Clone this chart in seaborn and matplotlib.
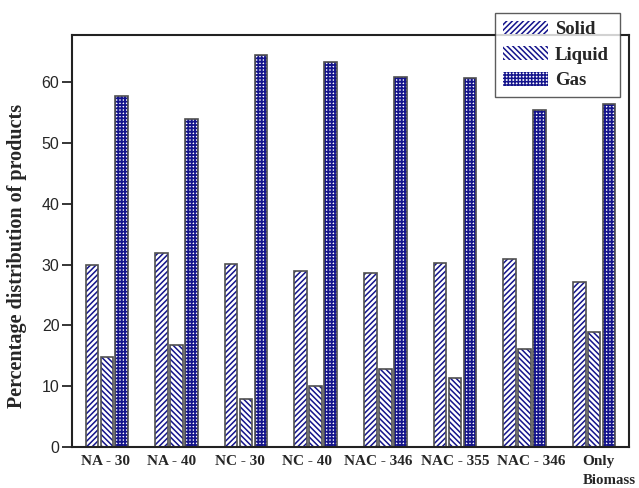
import matplotlib
matplotlib.use("Agg")
import matplotlib.pyplot as plt
from matplotlib.patches import Patch
import seaborn as sns
import pandas as pd

categories = ["NA - 30", "NA - 40", "NC - 30", "NC - 40",
              "NAC - 346", "NAC - 355", "NAC - 346 ", "Only"]
tick_labels = ["NA - 30", "NA - 40", "NC - 30", "NC - 40",
               "NAC - 346", "NAC - 355", "NAC - 346", "Only"]
series = ["Solid", "Liquid", "Gas"]
solid = [29.9, 31.9, 30.1, 28.9, 28.6, 30.2, 30.9, 27.1]
liquid = [14.8, 16.8, 7.9, 10.1, 12.9, 11.3, 16.2, 19.0]
gas = [57.8, 54.0, 64.5, 63.3, 60.9, 60.8, 55.5, 56.5]

# hand-set nudges of the category labels relative to their bar groups
label_shift = [-0.02, -0.07, -0.09, -0.13, -0.10, 0.0, 0.10, 0.06]

rows = []
for name, vals in zip(series, [solid, liquid, gas]):
    for cat, v in zip(categories, vals):
        rows.append({"cat": cat, "product": name, "value": v})
df = pd.DataFrame(rows)

sns.set_style("ticks")
plt.rcParams["hatch.linewidth"] = 1.1
navy = "#14148c"
hatches = {"Solid": "//////", "Liquid": "\\\\\\\\\\\\", "Gas": "+++++"}
hatch_lw = {"Solid": 1.1, "Liquid": 1.1, "Gas": 1.3}

fig = plt.figure(figsize=(6.39, 4.88), dpi=100)
ax = fig.add_axes([72 / 639, 1 - 447 / 488, (629 - 72) / 639, (447 - 35) / 488])

sns.barplot(data=df, x="cat", y="value", hue="product", order=categories,
            hue_order=series, width=0.645, gap=0.16, ax=ax, legend=False,
            palette=["white"] * 3, saturation=1, errorbar=None)


def style_patch(p, name):
    p.set_hatch(hatches[name])
    p.set_edgecolor(navy)
    p.set_linewidth(0)
    if hasattr(p, "set_hatch_linewidth"):
        p.set_hatch_linewidth(hatch_lw[name])


for cont, name in zip(ax.containers, series):
    for p in cont.patches:
        style_patch(p, name)
        # outline drawn on top so the hatch keeps its own colour
        ax.add_patch(plt.Rectangle(p.get_xy(), p.get_width(), p.get_height(),
                                   fill=False, edgecolor="#505050", linewidth=1.2,
                                   zorder=p.get_zorder() + 0.1))

ax.set_xlim(-0.5, 7.5)
ax.set_ylim(0, 67.8)
ax.set_yticks(range(0, 70, 10))
ax.set_xticks([i + d for i, d in enumerate(label_shift)])
ax.set_xticklabels(tick_labels, fontfamily="Liberation Serif",
                   fontweight="bold", fontsize=11)
ax.tick_params(axis="x", length=0, pad=6)
ax.tick_params(axis="y", length=7, width=1.3, labelsize=11.5, pad=2)
for lab in ax.get_yticklabels():
    lab.set_fontfamily("Liberation Sans")
ax.set_xlabel("")
ax.set_ylabel("Percentage distribution of products", fontfamily="Liberation Serif",
              fontweight="bold", fontsize=14.5)
ax.yaxis.set_label_coords(-0.081, 0.464)
for s in ax.spines.values():
    s.set_visible(True)
    s.set_linewidth(1.5)
    s.set_color("#222222")

fig.text(609 / 639, 1 - 481 / 488, "Biomass", ha="center", va="center",
         fontfamily="Liberation Serif", fontweight="bold", fontsize=10.7)

handles = []
for n in series:
    h = Patch(facecolor="white", edgecolor=navy, hatch=hatches[n], linewidth=0)
    if hasattr(h, "set_hatch_linewidth"):
        h.set_hatch_linewidth(hatch_lw[n])
    handles.append(h)
leg = fig.legend(handles, series, loc="upper left",
                 bbox_to_anchor=(495 / 639, 1 - 13 / 488, 125 / 639, 0.0),
                 mode="expand",
                 prop={"family": "Liberation Serif", "weight": "bold", "size": 13.5},
                 frameon=True, fancybox=False, edgecolor="#333333",
                 handlelength=2.45, handleheight=0.75, borderpad=0.4,
                 labelspacing=0.44, handletextpad=0.35, borderaxespad=0)
leg.get_frame().set_linewidth(1.0)
leg.set_zorder(10)

fig.savefig("out.png", dpi=100, facecolor="white")
